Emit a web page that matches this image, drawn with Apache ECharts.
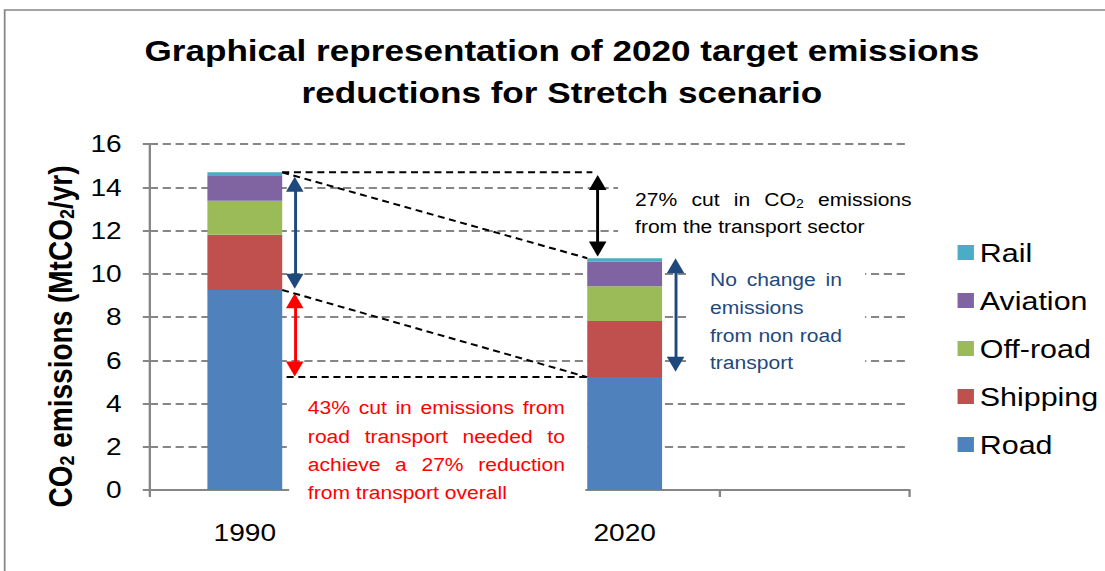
<!DOCTYPE html>
<html lang="en">
<head>
<meta charset="UTF-8">
<title>2020 target emissions reductions - Stretch scenario</title>
<script src="https://cdn.jsdelivr.net/npm/echarts@6.0.0/dist/echarts.min.js"></script>
<style>
    html, body { margin: 0; padding: 0; background: #fff; overflow: hidden; }
    /* the source picture is stretched sideways, so draw narrower and stretch */
    #main { width: 944px; height: 571px; transform: scaleX(1.1706); transform-origin: 0 0; }
</style>
</head>
<body>
<div id="main"></div>
<script type="text/javascript">
    // categories (two blank slots give the empty space on the right of each bar)
    var categories = ['1990', '', '2020', ''];

    // MtCO2/yr
    var road     = [9.25, null, 5.22, null];
    var shipping = [2.55, null, 2.60, null];
    var offRoad  = [1.58, null, 1.60, null];
    var aviation = [1.14, null, 1.14, null];
    var rail     = [0.17, null, 0.16, null];

    var yTicks = { min: 0, max: 16, step: 2 };

    var legendOrder = ['Rail', 'Aviation', 'Off-road', 'Shipping', 'Road'];

    var noteTotal = ['27% cut in CO_2 emissions', 'from the transport sector'];
    var noteNonRoad = ['No change in', 'emissions', 'from non road', 'transport'];
    var noteRoad = ['43% cut in emissions from', 'road transport needed to',
        'achieve a 27% reduction', 'from transport overall'];

    var colors = {
        Road: '#4F81BD', Shipping: '#C0504D', 'Off-road': '#9BBB59',
        Aviation: '#8064A2', Rail: '#4BACC6'
    };
    var FONT = '"Liberation Sans", Arial, sans-serif';
    var GREY = '#868686';

    // totals from the data
    function sumAt(i) {
        return road[i] + shipping[i] + offRoad[i] + aviation[i] + rail[i];
    }
    var total1990 = sumAt(0), total2020 = sumAt(2);
    var road1990 = road[0], road2020 = road[2];

    // bar geometry in category-band units (hidden value axis runs 0..4)
    var BAR_FRAC = 0.394;
    var right1990 = 0.5 + BAR_FRAC / 2;
    var left2020 = 2.5 - BAR_FRAC / 2;
    var HEAD = 0.35; // half an arrow head, in axis units

    function dashed(points) {
        return {
            type: 'line', xAxisIndex: 1, yAxisIndex: 0, data: points,
            symbol: 'none', silent: true, animation: false, z: 5,
            lineStyle: { color: '#000', width: 2, type: [6, 4] }
        };
    }

    function arrow(x, tipLow, tipHigh, color) {
        return [
            { coord: [x, tipLow + HEAD], lineStyle: { color: color, width: 2.5, type: 'solid' } },
            { coord: [x, tipHigh - HEAD] }
        ];
    }

    // justified text blocks, like the text boxes of the original
    var ctx = document.createElement('canvas').getContext('2d');
    function tw(t, size) {
        ctx.font = size + 'px ' + FONT;
        return ctx.measureText(t).width;
    }
    function wordW(w) {
        var p = w.split('_');
        return tw(p[0], 18) + (p[1] ? tw(p[1], 12) : 0);
    }
    function noteBlock(lines, left, width, ys, color) {
        var els = [];
        lines.forEach(function (line, i) {
            var words = line.split(' ');
            var sum = 0;
            words.forEach(function (w) { sum += wordW(w); });
            var last = i === lines.length - 1 || words.length < 2;
            var gap = last ? tw(' ', 18) : (width - sum) / (words.length - 1);
            var x = left;
            words.forEach(function (w) {
                var p = w.split('_');
                els.push({
                    type: 'text', x: x, y: ys[i], z: 101, silent: true,
                    style: { text: p[0], fill: color, font: '18px ' + FONT, verticalAlign: 'middle', textVerticalAlign: 'middle' }
                });
                if (p[1]) {
                    els.push({
                        type: 'text', x: x + tw(p[0], 18), y: ys[i] + 4, z: 101, silent: true,
                        style: { text: p[1], fill: color, font: '12px ' + FONT, verticalAlign: 'middle', textVerticalAlign: 'middle' }
                    });
                }
                x += wordW(w) + gap;
            });
        });
        return els;
    }
    function box(x, y, w, h) {
        return { type: 'rect', z: 100, silent: true, shape: { x: x, y: y, width: w, height: h }, style: { fill: '#fff' } };
    }

    var graphics = [
        { type: 'rect', z: 100, silent: true, shape: { x: 4, y: 10, width: 2000, height: 2000 },
          style: { fill: 'none', stroke: GREY, lineWidth: 1.5 } },
        box(247, 385, 253, 127),
        box(528, 180, 254, 62),
        box(589, 262, 150, 116)
    ];
    graphics = graphics
        .concat(noteBlock(noteRoad, 263, 219.6, [408, 437, 465, 493], '#FF0000'))
        .concat(noteBlock(noteTotal, 542.5, 236.3, [200, 227], '#000000'))
        .concat(noteBlock(noteNonRoad, 606.5, 112.8, [280, 308, 336, 363], '#1F497D'));

    function barSeries(name, data) {
        return {
            name: name, type: 'bar', stack: 'total', data: data,
            barWidth: (BAR_FRAC * 100) + '%', animation: false,
            itemStyle: { color: colors[name] }
        };
    }

    var option = {
        textStyle: { fontFamily: FONT },
        animation: false,
        title: {
            text: 'Graphical representation of 2020 target emissions\nreductions for Stretch scenario',
            left: 480, top: 29, textAlign: 'center', padding: 0,
            textStyle: { fontSize: 30, fontWeight: 'bold', lineHeight: 42, color: '#000', fontFamily: FONT }
        },
        legend: {
            data: legendOrder, orient: 'vertical', left: 813, top: 234,
            itemWidth: 14, itemHeight: 15, itemGap: 21, icon: 'rect',
            textStyle: { fontSize: 26, lineHeight: 27, color: '#000', fontFamily: FONT }
        },
        grid: { left: 128, right: 167, top: 144, bottom: 81 },
        xAxis: [{
            type: 'category', data: categories,
            axisLine: { lineStyle: { color: GREY, width: 2 } },
            axisTick: { show: true, length: 7, lineStyle: { color: GREY, width: 2 } },
            axisLabel: { fontSize: 24, color: '#000', margin: 31, interval: 0 }
        }, {
            type: 'value', min: 0, max: 4, show: false
        }],
        yAxis: {
            type: 'value', min: yTicks.min, max: yTicks.max, interval: yTicks.step,
            axisLine: { show: true, lineStyle: { color: GREY, width: 2 } },
            axisTick: { show: true, length: 6, lineStyle: { color: GREY, width: 2 } },
            axisLabel: { fontSize: 24, color: '#000', margin: 24 },
            splitLine: { show: true, lineStyle: { color: GREY, width: 2, type: [7, 4] } },
            name: '{b|CO}{s|2}{b| emissions (MtCO}{s|2}{b|/yr)}',
            nameLocation: 'middle', nameGap: 62,
            nameTextStyle: {
                padding: [0, 39, 0, 0],
                rich: {
                    b: { fontSize: 28, fontWeight: 'bold', lineHeight: 30, color: '#000', fontFamily: FONT, verticalAlign: 'middle' },
                    s: { fontSize: 18, fontWeight: 'bold', lineHeight: 18, color: '#000', fontFamily: FONT, verticalAlign: 'bottom' }
                }
            }
        },
        series: [
            barSeries('Road', road),
            barSeries('Shipping', shipping),
            barSeries('Off-road', offRoad),
            barSeries('Aviation', aviation),
            barSeries('Rail', rail),
            dashed([[right1990, total1990], [2.33, total1990]]),
            dashed([[right1990, total1990], [left2020, total2020]]),
            dashed([[right1990, road1990], [left2020, road2020]]),
            dashed([[0.72, road2020], [left2020, road2020]]),
            {
                type: 'line', xAxisIndex: 1, yAxisIndex: 0, data: [], silent: true, animation: false,
                markLine: {
                    silent: true, animation: false,
                    symbol: ['triangle', 'triangle'], symbolSize: 15,
                    label: { show: false },
                    data: [
                        arrow(0.763, road1990 + 0.05, total1990 - 0.2, '#1F497D'),
                        arrow(0.763, road2020 + 0.02, road1990 - 0.15, '#FF0000'),
                        arrow(2.358, total2020 + 0.07, total1990 - 0.12, '#000000'),
                        arrow(2.768, road2020 + 0.25, total2020, '#1F497D')
                    ]
                }
            }
        ],
        graphic: graphics
    };

    var myChart = echarts.init(document.getElementById('main'), null, { renderer: 'svg' });
    myChart.setOption(option);
</script>
</body>
</html>
